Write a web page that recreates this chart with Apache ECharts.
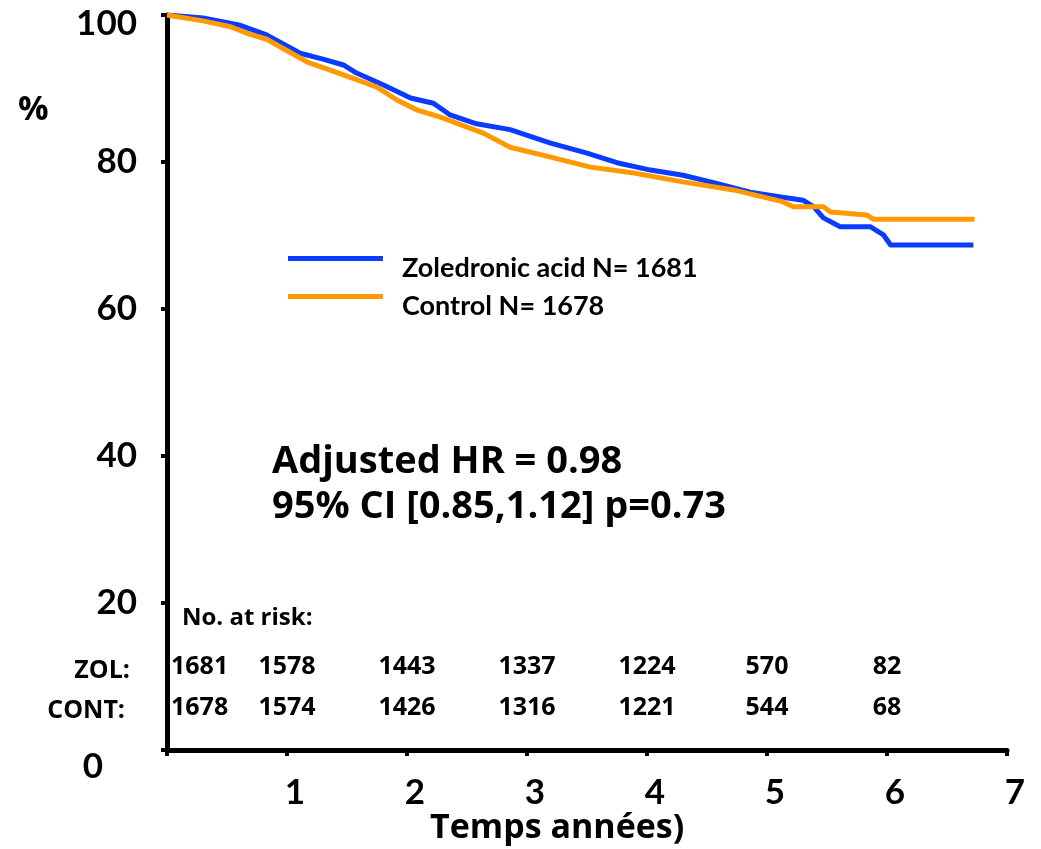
<!DOCTYPE html>
<html>
<head>
<meta charset="utf-8">
<script src="https://cdn.jsdelivr.net/npm/echarts@6/dist/echarts.min.js"></script>
<style>
  html, body { margin: 0; padding: 0; background: #fff; }
  #chart { width: 1041px; height: 849px; }
</style>
</head>
<body>
<div id="chart"></div>
<script>
// Kaplan-Meier curves: [years, % event free]
const zolCurve = [
  [0, 100], [0.3, 99.6], [0.61, 98.6], [0.83, 97.3], [1.11, 94.8], [1.30, 94.0],
  [1.47, 93.2], [1.58, 92.1], [1.80, 90.5], [2.03, 88.7], [2.22, 88.0],
  [2.36, 86.4], [2.58, 85.2], [2.86, 84.4], [3.19, 82.6], [3.50, 81.2],
  [3.75, 79.9], [4.03, 78.9], [4.30, 78.2], [4.58, 77.1], [4.86, 75.9],
  [5.13, 75.2], [5.30, 74.8], [5.39, 73.9], [5.47, 72.4], [5.61, 71.2],
  [5.86, 71.2], [5.97, 70.1], [6.03, 68.7], [6.72, 68.7]
];
const contCurve = [
  [0, 100], [0.3, 99.2], [0.53, 98.4], [0.67, 97.5], [0.83, 96.7], [1.17, 93.6],
  [1.36, 92.5], [1.58, 91.2], [1.75, 90.2], [1.92, 88.4], [2.08, 87.1],
  [2.28, 86.1], [2.64, 83.9], [2.86, 82.0], [3.19, 80.7], [3.53, 79.3],
  [3.89, 78.5], [4.30, 77.3], [4.72, 76.2], [5.13, 74.6], [5.22, 73.9],
  [5.47, 73.9], [5.53, 73.2], [5.83, 72.8], [5.89, 72.2], [6.73, 72.2]
];
const seriesNames = ['Zoledronic acid N= 1681', 'Control N= 1678'];
const seriesColors = ['#0a3cff', '#ff9900'];

// numbers at risk
const riskTimes = [0, 1, 2, 3, 4, 5, 6];
const zolRisk = [1681, 1578, 1443, 1337, 1224, 570, 82];
const contRisk = [1678, 1574, 1426, 1316, 1221, 544, 68];
const zolRowY = 11.3;
const contRowY = 5.7;

const yTicks = [0, 20, 40, 60, 80, 100];
const xTicks = [1, 2, 3, 4, 5, 6, 7];

const SANS = 'Lato';
const WIDE = '"Open Sans"';

function riskSeries(values, rowY) {
  return {
    type: 'scatter',
    symbolSize: 0,
    silent: true,
    itemStyle: { opacity: 1 },
    data: values.map((v, i) => ({
      value: [riskTimes[i], rowY],
      label: i === 0 ? { align: 'left', offset: [4, 0] } : {}
    })),
    label: {
      show: true,
      position: 'inside',
      formatter: p => values[p.dataIndex],
      color: '#000',
      opacity: 1,
      textBorderWidth: 0,
      fontFamily: WIDE,
      fontWeight: 'bold',
      fontSize: 25
    }
  };
}

const chart = echarts.init(document.getElementById('chart'));
chart.setOption({
  animation: false,
  backgroundColor: '#fff',
  grid: { left: 167, top: 15, width: 840, height: 735 },
  legend: {
    orient: 'vertical',
    left: 283,
    top: 248,
    icon: 'path://M0,0H95V5H0Z M0,24H0.01V24.01H0Z',
    itemWidth: 95,
    itemHeight: 24,
    itemGap: 8,
    data: seriesNames,
    textStyle: {
      fontFamily: SANS,
      fontWeight: 'bold',
      fontSize: 27,
      lineHeight: 30,
      color: '#000',
      padding: [0, 0, 0, 14]
    }
  },
  xAxis: {
    type: 'value',
    min: 0,
    max: 7,
    interval: 1,
    splitLine: { show: false },
    axisLine: { lineStyle: { color: '#000', width: 5 } },
    axisTick: { length: 6, lineStyle: { color: '#000', width: 4 } },
    axisLabel: {
      margin: 25,
      color: '#000',
      fontFamily: SANS,
      fontWeight: 'bold',
      fontSize: 35,
      padding: [0, 0, 0, 16],
      formatter: v => (xTicks.indexOf(v) >= 0 ? String(v) : '')
    }
  },
  yAxis: {
    type: 'value',
    min: 0,
    max: 100,
    interval: 20,
    splitLine: { show: false },
    axisLine: { lineStyle: { color: '#000', width: 5 } },
    axisTick: { length: 6, lineStyle: { color: '#000', width: 4 } },
    axisLabel: {
      margin: 30,
      color: '#000',
      fontFamily: SANS,
      fontWeight: 'bold',
      fontSize: 35,
      formatter: v => {
        if (v === 0) return '{z|0}';
        if (v === 100) return '{t|100}';
        return yTicks.indexOf(v) >= 0 ? String(v) : '';
      },
      rich: {
        z: {
          fontFamily: SANS, fontWeight: 'bold', fontSize: 35, color: '#000',
          padding: [34, 34, 0, 0]
        },
        t: {
          fontFamily: SANS, fontWeight: 'bold', fontSize: 35, color: '#000',
          padding: [18, 0, 0, 0]
        }
      }
    }
  },
  graphic: [
    { type: 'text', left: 18, top: 93, style: { text: '%', font: 'bold 34px "Open Sans"', fill: '#000' } },
    { type: 'text', left: 430, top: 811, style: { text: 'Temps années)', font: 'bold 34px "Open Sans"', fill: '#000' } },
    { type: 'text', left: 272, top: 443, style: { text: 'Adjusted HR = 0.98', font: 'bold 38px "Open Sans"', fill: '#000' } },
    { type: 'text', left: 272, top: 488, style: { text: '95% CI [0.85,1.12] p=0.73', font: 'bold 38px "Open Sans"', fill: '#000' } },
    { type: 'text', left: 182, top: 606, style: { text: 'No. at risk:', font: 'bold 24px "Open Sans"', fill: '#000' } },
    { type: 'text', right: 911, top: 658, style: { text: 'ZOL:', font: 'bold 25px "Open Sans"', fill: '#000' } },
    { type: 'text', right: 916, top: 698, style: { text: 'CONT:', font: 'bold 25px "Open Sans"', fill: '#000' } }
  ],
  series: [
    {
      name: seriesNames[0],
      type: 'line',
      data: zolCurve,
      showSymbol: false,
      color: seriesColors[0],
      lineStyle: { width: 5, color: seriesColors[0] }
    },
    {
      name: seriesNames[1],
      type: 'line',
      data: contCurve,
      showSymbol: false,
      color: seriesColors[1],
      lineStyle: { width: 5, color: seriesColors[1] }
    },
    riskSeries(zolRisk, zolRowY),
    riskSeries(contRisk, contRowY)
  ]
});
</script>
</body>
</html>
